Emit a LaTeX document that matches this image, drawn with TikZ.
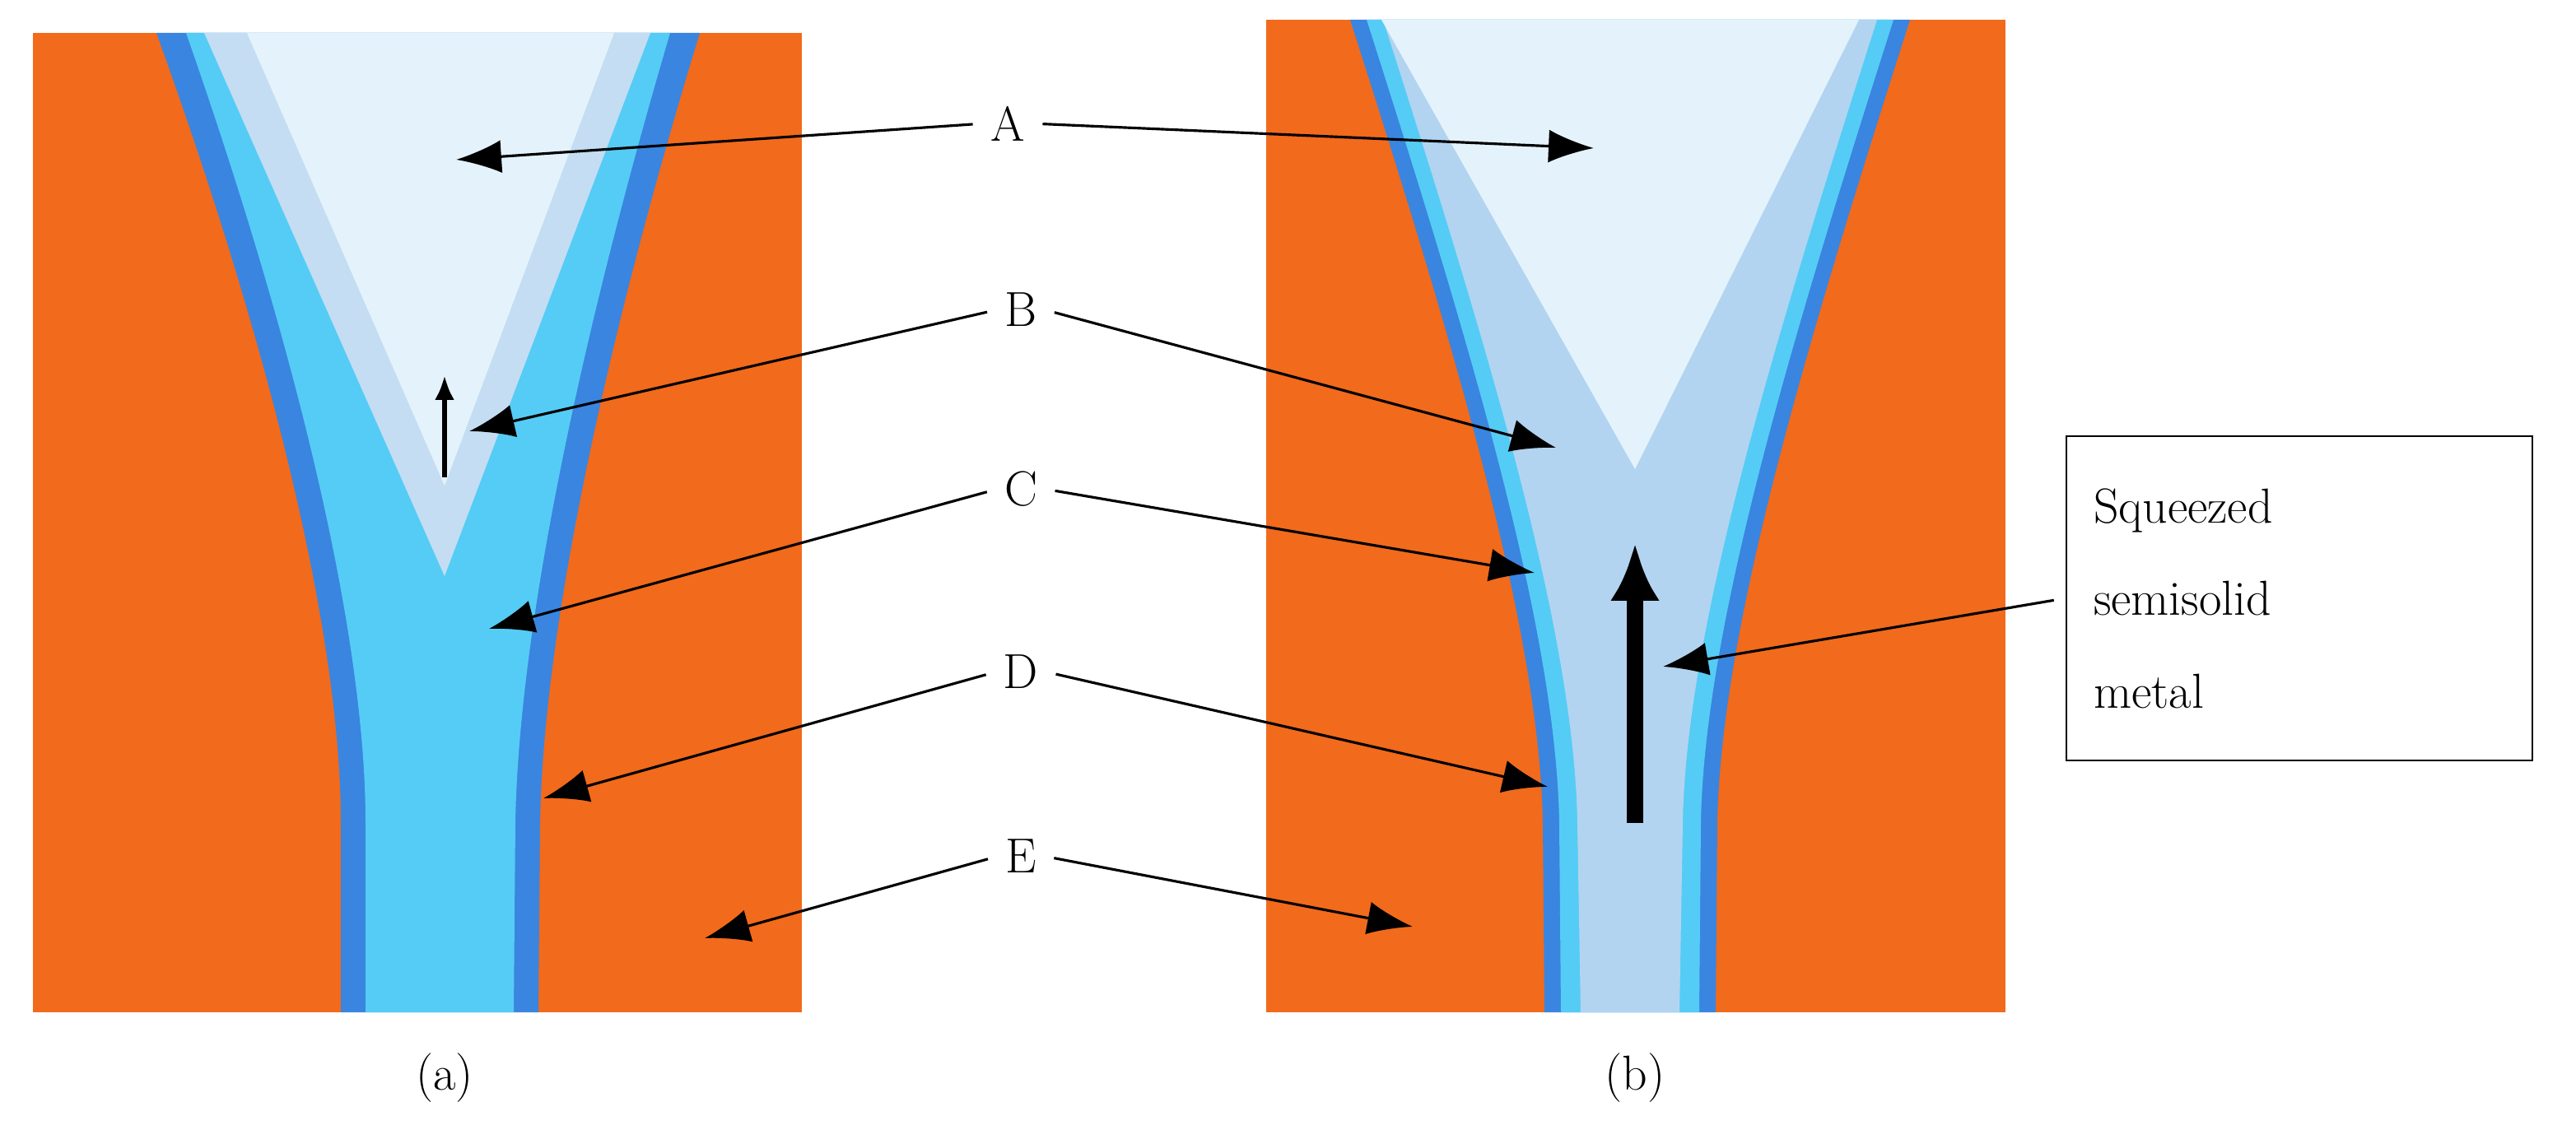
\documentclass[tikz,border=0pt]{standalone}
\usepackage{tikz}
\usetikzlibrary{arrows.meta}

\definecolor{mould}{HTML}{F26A1B}
\definecolor{shell}{HTML}{3A85E0}
\definecolor{melt}{HTML}{55CCF5}
\definecolor{semi}{HTML}{C4DDF2}
\definecolor{semib}{HTML}{B2D4F0}
\definecolor{liquid}{HTML}{E4F3FB}

\begin{document}
\begin{tikzpicture}[
    x=0.02cm, y=-0.02cm,
    font=\fontsize{17}{20}\selectfont,
    lbl/.style={inner sep=2pt},
    pointer/.style={-{Latex[length=5.5mm,width=4mm]}, line width=0.9pt, shorten <=4pt},
    push/.style={-{Latex[length=7mm,width=6mm]}, line width=5.5pt},
    smallpush/.style={-{Latex[length=3mm,width=2.4mm]}, line width=1.8pt}
]
\useasboundingbox (0,0) rectangle (1564.5,692);

% panel (a)
\fill[mould] (20,20) rectangle (487,615);
\fill[shell] (95,20) .. controls (160,200) and (207,380) .. (207,500) -- (207,615)
    -- (327,615) -- (328,500) .. controls (330,380) and (370,200) .. (425,20) -- cycle;
\fill[melt] (113,20) .. controls (176,200) and (222,380) .. (222,500) -- (222,615)
    -- (312,615) -- (313,500) .. controls (315,380) and (354,200) .. (407,20) -- cycle;
\fill[semi] (124,20) -- (270,350) -- (395,20) -- cycle;
\fill[liquid] (150,20) -- (270,295) -- (373,20) -- cycle;

% panel (b)
\fill[mould] (769,12) rectangle (1218,615);
\fill[shell] (820,12) .. controls (880,200) and (935,380) .. (937,500) -- (938,615)
    -- (1042,615) -- (1043,500) .. controls (1045,380) and (1100,200) .. (1160,12) -- cycle;
\fill[melt] (830,12) .. controls (890,200) and (945,380) .. (947,500) -- (948,615)
    -- (1032,615) -- (1033,500) .. controls (1035,380) and (1090,200) .. (1150,12) -- cycle;
\fill[semib] (840,12) .. controls (900,200) and (956,380) .. (958,500) -- (960,615)
    -- (1020,615) -- (1022,500) .. controls (1024,380) and (1080,200) .. (1140,12) -- cycle;
\fill[liquid] (839,12) -- (993,285) -- (1129,12) -- cycle;

% labels
\node[lbl] (A) at (612,75) {A};
\node[lbl] (B) at (620,188) {B};
\node[lbl] (C) at (620,297) {C};
\node[lbl] (D) at (620,408) {D};
\node[lbl] (E) at (620,520) {E};

\coordinate (aA) at (277,97);
\coordinate (aB) at (285,262);
\coordinate (aC) at (297,382);
\coordinate (aD) at (330,485);
\coordinate (aE) at (428,570);
\coordinate (bA) at (968,90);
\coordinate (bB) at (945,272);
\coordinate (bC) at (932,348);
\coordinate (bD) at (940,478);
\coordinate (bE) at (858,563);

\draw[pointer] (A.west) -- (aA);
\draw[pointer] (B.west) -- (aB);
\draw[pointer] (C.west) -- (aC);
\draw[pointer] (D.west) -- (aD);
\draw[pointer] (E.west) -- (aE);
\draw[pointer] (A.east) -- (bA);
\draw[pointer] (B.east) -- (bB);
\draw[pointer] (C.east) -- (bC);
\draw[pointer] (D.east) -- (bD);
\draw[pointer] (E.east) -- (bE);

% flow arrows
\coordinate (sa0) at (270,290);
\coordinate (sa1) at (270,228);
\draw[smallpush] (sa0) -- (sa1);
\coordinate (fb0) at (993,500);
\coordinate (fb1) at (993,330);
\draw[push] (fb0) -- (fb1);

% note box
\node[draw, line width=0.8pt, minimum width=5.66cm, minimum height=3.94cm,
      align=left, text width=5cm, font=\fontsize{17}{32}\selectfont] (note) at (1396.5,363.5)
      {Squeezed\\semisolid\\metal};
\coordinate (nt) at (1010,405);
\draw[pointer] (note.west) -- (nt);

% captions
\node (capa) at (270,655) {(a)};
\node (capb) at (993,655) {(b)};
\end{tikzpicture}
\end{document}
